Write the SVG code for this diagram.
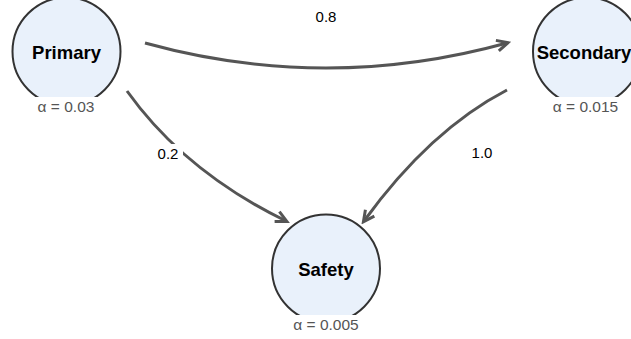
<svg xmlns="http://www.w3.org/2000/svg" width="631" height="339" viewBox="0 0 631 339">
<defs>
<style>
.node circle{fill:#e9f1fb;stroke:#333;stroke-width:2}
.name{font-family:"Liberation Sans",Arial,sans-serif;font-weight:bold;font-size:18.5px;fill:#000;text-anchor:middle}
.alpha{font-family:"Liberation Sans",Arial,sans-serif;font-size:15.5px;fill:#555;text-anchor:middle}
.bg{fill:#fff}
.edge{fill:none;stroke:#555;stroke-width:3}
.elabel{font-family:"Liberation Sans",Arial,sans-serif;font-size:15px;fill:#000;text-anchor:middle}
</style>
<marker id="arr" markerUnits="userSpaceOnUse" markerWidth="16" markerHeight="16" viewBox="0 0 16 16" refX="12" refY="8" orient="auto">
<path d="M2,2.5 L13,8 L2,13.5" fill="none" stroke="#555" stroke-width="3"/>
</marker>
</defs>
<rect width="631" height="339" fill="#fff"/>
<g id="connectors">
<path class="edge" d="M145,43 Q326,93 507,43" marker-end="url(#arr)"/>
<path class="edge" d="M127,91 Q185,172 286,221" marker-end="url(#arr)"/>
<path class="edge" d="M507,90 Q430,130 364,221" marker-end="url(#arr)"/>
<text class="elabel" x="326" y="21.5">0.8</text>
<rect class="bg" x="155" y="144" width="28" height="18"/>
<text class="elabel" x="168" y="159">0.2</text>
<text class="elabel" x="482" y="158">1.0</text>
</g>
<g id="node-primary" class="node">
<circle cx="66.5" cy="51.5" r="54"/>
<text class="name" x="66.5" y="59">Primary</text>
<rect class="bg" x="33" y="97" width="66" height="20"/>
<text class="alpha" x="66" y="112.3">α = 0.03</text>
</g>
<g id="node-secondary" class="node">
<circle cx="587" cy="51.5" r="54"/>
<text class="name" x="584" y="59">Secondary</text>
<rect class="bg" x="546" y="97" width="80" height="20"/>
<text class="alpha" x="585.5" y="112.3">α = 0.015</text>
</g>
<g id="node-safety" class="node">
<circle cx="326" cy="268.5" r="54"/>
<text class="name" x="326" y="276">Safety</text>
<rect class="bg" x="286" y="315" width="80" height="20"/>
<text class="alpha" x="326" y="330">α = 0.005</text>
</g>
</svg>
